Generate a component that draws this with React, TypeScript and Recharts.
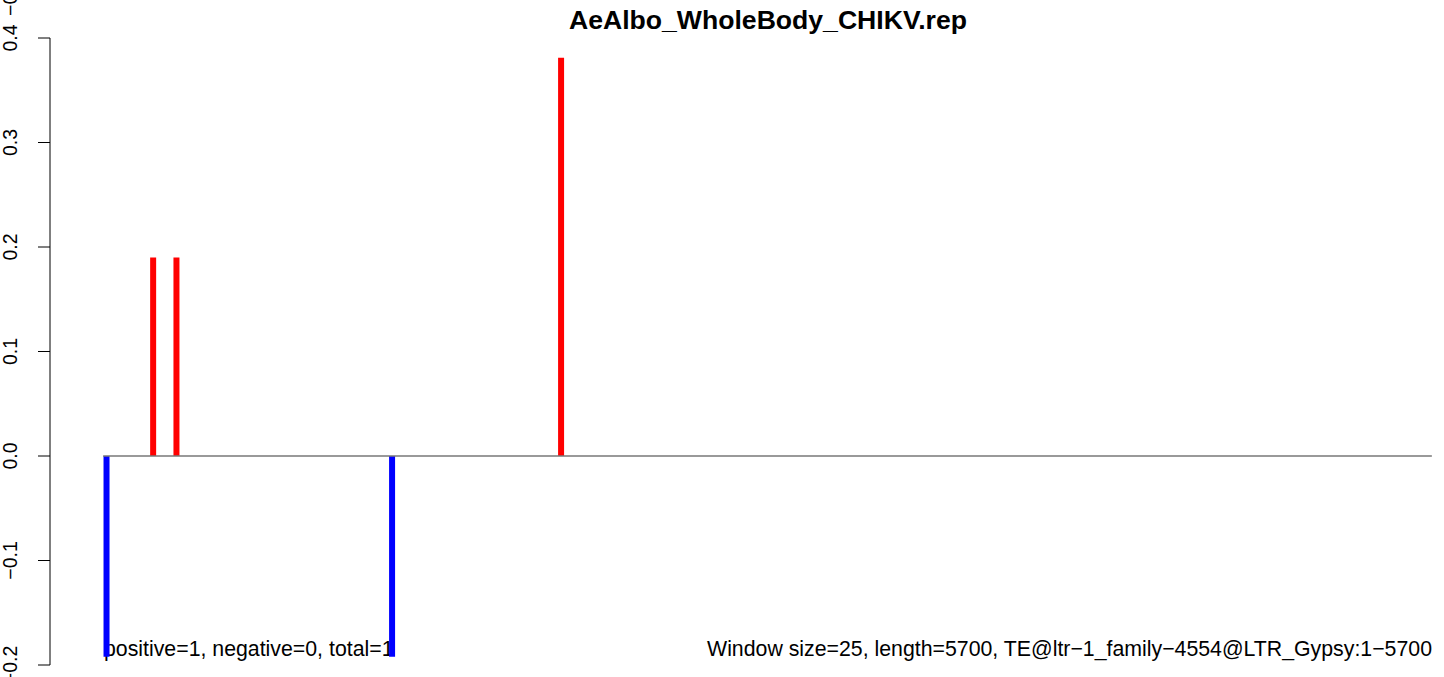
import React from "react";
import {
  ComposedChart,
  Bar,
  Cell,
  XAxis,
  YAxis,
  ReferenceLine,
  Customized,
} from "recharts";

const positions = [13, 213, 313, 1238, 1963];
const values = [-0.192, 0.19, 0.19, -0.192, 0.381];
const yTicks = [-0.2, -0.1, 0.0, 0.1, 0.2, 0.3, 0.4];
const title = "AeAlbo_WholeBody_CHIKV.rep";
const leftNote = "positive=1, negative=0, total=1";
const rightNote =
  "Window size=25, length=5700, TE@ltr\u22121_family\u22124554@LTR_Gypsy:1\u22125700";
const extraTopLabel = "\u22120.4";
const seqLength = 5700;

const data = positions.map((x, i) => ({ x, v: values[i] }));

const FONT = "'Liberation Sans', Arial, Helvetica, sans-serif";

const fmt = (v: number) => {
  const s = Math.abs(v).toFixed(1);
  return v < 0 ? "\u2212" + s : s;
};

const YTick = (props: any) => {
  const { y, payload } = props;
  const lx = 17;
  return (
    <text
      x={lx}
      y={y}
      transform={`rotate(-90, ${lx}, ${y})`}
      textAnchor="middle"
      fontFamily={FONT}
      fontSize={19.5}
      fill="#000"
    >
      {fmt(payload.value)}
    </text>
  );
};

const Annotations = () => (
  <g>
    <text
      x={768}
      y={29}
      textAnchor="middle"
      fontFamily={FONT}
      fontSize={26.6}
      fontWeight="bold"
      fill="#000"
    >
      {title}
    </text>
    <text x={104} y={656} fontFamily={FONT} fontSize={21.3} fill="#000">
      {leftNote}
    </text>
    <text
      x={1432}
      y={656}
      textAnchor="end"
      fontFamily={FONT}
      fontSize={21.3}
      fill="#000"
    >
      {rightNote}
    </text>
    <text
      x={17}
      y={16}
      transform="rotate(-90, 17, 16)"
      textAnchor="start"
      fontFamily={FONT}
      fontSize={19.5}
      fill="#000"
    >
      {extraTopLabel}
    </text>
  </g>
);

export default function App() {
  return (
    <div
      style={{
        position: "fixed",
        left: 0,
        top: 0,
        width: 1444,
        height: 677,
        overflow: "hidden",
        background: "#fff",
      }}
    >
      <ComposedChart
        width={1500}
        height={700}
        data={data}
        margin={{ top: 38, right: 15, bottom: 35, left: 0 }}
      >
        <XAxis
          type="number"
          dataKey="x"
          domain={[-228, 5928]}
          hide
          allowDataOverflow
        />
        <YAxis
          type="number"
          domain={[-0.2, 0.4]}
          ticks={yTicks}
          width={50}
          tickSize={12}
          axisLine={{ stroke: "#000", strokeWidth: 1 }}
          tickLine={{ stroke: "#000", strokeWidth: 1 }}
          tick={<YTick />}
          interval={0}
          allowDataOverflow
        />
        <ReferenceLine
          segment={[
            { x: 0, y: 0 },
            { x: seqLength, y: 0 },
          ]}
          stroke="#777"
          strokeWidth={1.5}
        />
        <Bar dataKey="v" barSize={6} isAnimationActive={false}>
          {data.map((d, i) => (
            <Cell key={i} fill={d.v >= 0 ? "#ff0000" : "#0000ff"} />
          ))}
        </Bar>
        <Customized component={Annotations} />
      </ComposedChart>
    </div>
  );
}
